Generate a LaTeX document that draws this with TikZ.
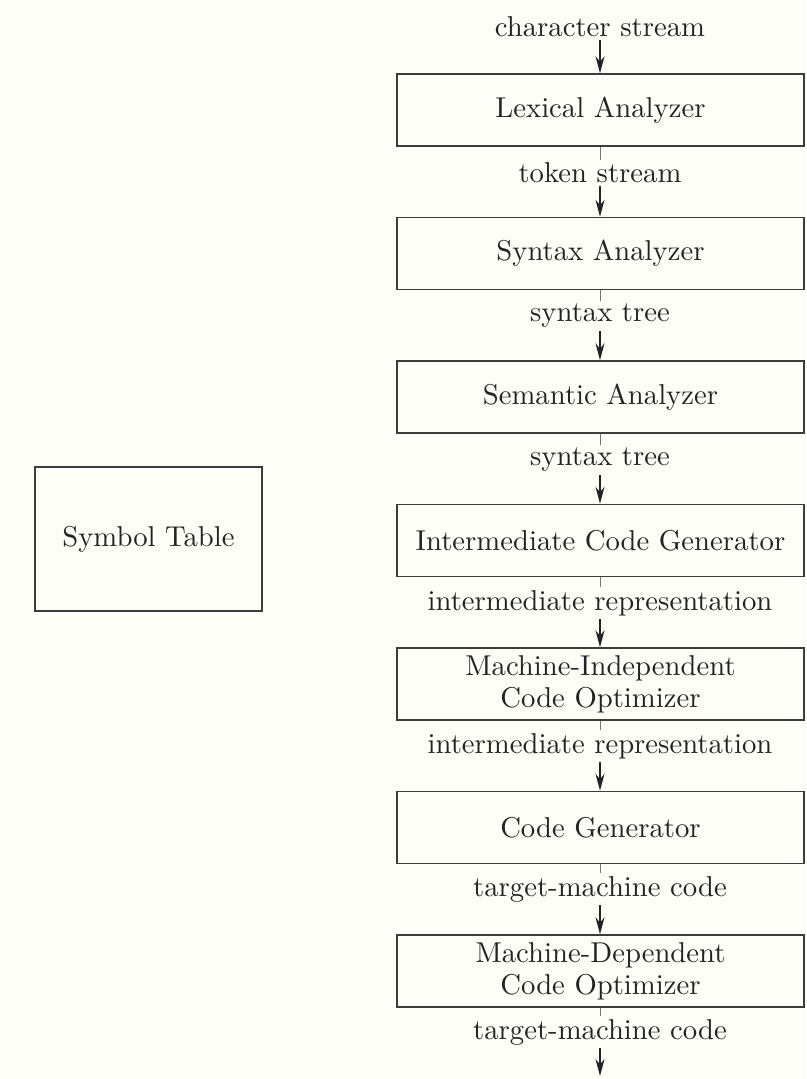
\documentclass[tikz,border=0pt]{standalone}
\usepackage{fontspec}
\setmainfont{lmroman10-regular.otf}
\usetikzlibrary{arrows.meta}
\definecolor{paper}{RGB}{254,254,249}
\definecolor{ink}{RGB}{35,35,35}
\definecolor{rule}{RGB}{60,60,60}
\begin{document}
\begin{tikzpicture}[x=1pt,y=-1pt,
  font=\fontsize{28.7}{32}\selectfont,
  phase/.style={draw=rule,line width=1.5pt,minimum width=407pt,minimum height=72pt,
    align=center,inner sep=0pt,text=ink},
  flowlabel/.style={inner sep=3pt,text=ink},
  feed/.style={draw=rule!70,line width=1pt},
  flowarrow/.style={draw=ink,line width=1.4pt,-{Stealth[length=17pt,width=9pt]}}]
\fill[paper] (0,0) rectangle (806,1079);
\useasboundingbox (0,0) rectangle (806,1079);

\node[phase] (lex)  at (600.5,110)   {Lexical Analyzer};
\node[phase] (syn)  at (600.5,253.5) {Syntax Analyzer};
\node[phase] (sem)  at (600.5,397)   {Semantic Analyzer};
\node[phase] (icg)  at (600.5,540.5) {Intermediate Code Generator};
\node[phase] (mico) at (600.5,684)   {Machine-Independent\\Code Optimizer};
\node[phase] (cg)   at (600.5,827.5) {Code Generator};
\node[phase] (mdco) at (600.5,971)   {Machine-Dependent\\Code Optimizer};

\node[draw=rule,line width=1.5pt,minimum width=227pt,minimum height=144pt,text=ink]
  (symtab) at (148.5,539) {Symbol Table};

\node[flowlabel] (l0) at (600,27)   {character stream};
\node[flowlabel] (l1) at (600,173)  {token stream};
\node[flowlabel] (l2) at (600,316)  {syntax tree};
\node[flowlabel] (l3) at (600,460)  {syntax tree};
\node[flowlabel] (l4) at (600,603)  {intermediate representation};
\node[flowlabel] (l5) at (600,746)  {intermediate representation};
\node[flowlabel] (l6) at (600,889)  {target-machine code};
\node[flowlabel] (l7) at (600,1032) {target-machine code};
\coordinate (out) at (600,1076);

\draw[flowarrow] (l0.south) -- (lex.north -| l0.south);
\draw[feed] (lex.south -| l1.north) -- (l1.north);
\draw[flowarrow] (l1.south) -- (syn.north -| l1.south);
\draw[feed] (syn.south -| l2.north) -- (l2.north);
\draw[flowarrow] (l2.south) -- (sem.north -| l2.south);
\draw[feed] (sem.south -| l3.north) -- (l3.north);
\draw[flowarrow] (l3.south) -- (icg.north -| l3.south);
\draw[feed] (icg.south -| l4.north) -- (l4.north);
\draw[flowarrow] (l4.south) -- (mico.north -| l4.south);
\draw[feed] (mico.south -| l5.north) -- (l5.north);
\draw[flowarrow] (l5.south) -- (cg.north -| l5.south);
\draw[feed] (cg.south -| l6.north) -- (l6.north);
\draw[flowarrow] (l6.south) -- (mdco.north -| l6.south);
\draw[feed] (mdco.south -| l7.north) -- (l7.north);
\draw[flowarrow] (l7.south) -- (out);
\end{tikzpicture}
\end{document}
